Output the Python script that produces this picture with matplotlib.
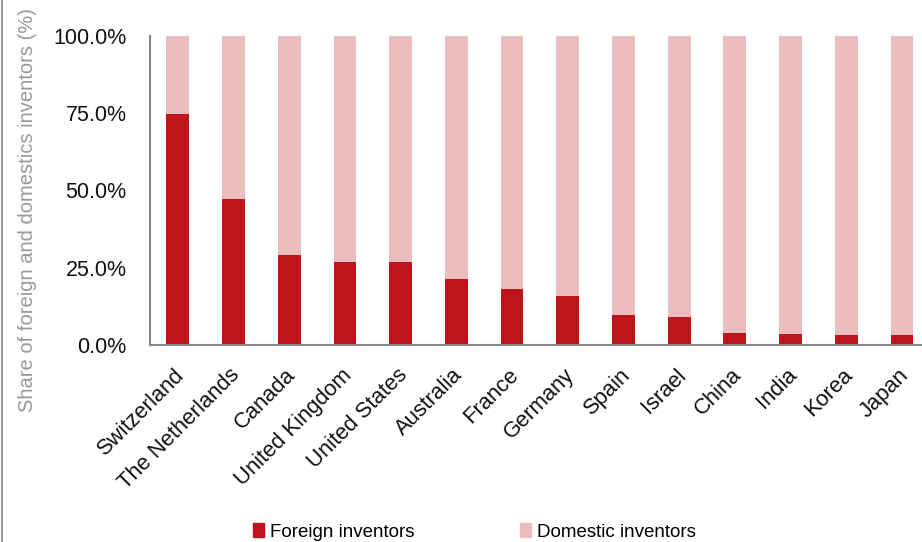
import matplotlib
matplotlib.use('Agg')
import matplotlib.pyplot as plt
import matplotlib.transforms as mtransforms
from matplotlib.patches import Patch
from matplotlib.lines import Line2D
from matplotlib.ticker import FuncFormatter, FixedLocator

countries = ['Switzerland', 'The Netherlands', 'Canada', 'United Kingdom', 'United States',
             'Australia', 'France', 'Germany', 'Spain', 'Israel', 'China', 'India', 'Korea', 'Japan']
foreign = [74.7, 47.2, 29.0, 27.0, 26.9, 21.4, 18.1, 15.9, 9.6, 8.9, 4.0, 3.6, 3.2, 3.2]
domestic = [100 - v for v in foreign]
yticks = [0, 25, 50, 75, 100]

plt.rcParams['font.family'] = ['Liberation Sans', 'DejaVu Sans']

c_foreign = '#BE141C'
c_domestic = '#ECBDBF'

fig = plt.figure(figsize=(9.22, 5.42), dpi=100)
ax = fig.add_axes([150 / 922, 197 / 542, 772 / 922, 309 / 542])

x = list(range(len(countries)))
ax.bar(x, foreign, width=0.41, color=c_foreign, label='Foreign inventors')
ax.bar(x, domestic, width=0.41, bottom=foreign, color=c_domestic, label='Domestic inventors')

ax.set_xlim(-0.5, -0.5 + 772 / 55.7)
ax.set_ylim(0, 100)
ax.yaxis.set_major_locator(FixedLocator(yticks))
ax.yaxis.set_major_formatter(FuncFormatter(lambda v, p: f'{v:.1f}%'))
ax.tick_params(axis='y', length=0, pad=17, labelsize=15.5, labelcolor='#111111')
ax.tick_params(axis='x', length=0, pad=14, labelsize=15.8, labelcolor='#111111')

ax.set_xticks(x)
ax.set_xticklabels(countries, rotation=45, ha='right', va='top', rotation_mode='anchor')
shift = mtransforms.ScaledTranslation(-4 / 100, 0, fig.dpi_scale_trans)
for lab in ax.get_xticklabels():
    lab.set_transform(lab.get_transform() + shift)

for s in ['top', 'right']:
    ax.spines[s].set_visible(False)
for s in ['left', 'bottom']:
    ax.spines[s].set_color('#888888')
    ax.spines[s].set_linewidth(1.5)

fig.text(28 / 922, 1 - 210 / 542, 'Share of foreign and domestics inventors (%)',
         rotation=90, ha='center', va='center', fontsize=14.5, color='#999999')

# left border line of the original frame
fig.add_artist(Line2D([2 / 922, 2 / 922], [0, 1], color='#888888', lw=1.2,
                      transform=fig.transFigure))

handles = [Patch(color=c_foreign), Patch(color=c_domestic)]
fig.legend(handles, ['Foreign inventors', 'Domestic inventors'], loc='center',
           bbox_to_anchor=(474.5 / 922, 10 / 542), ncol=2, frameon=False, fontsize=13.5,
           handlelength=0.59, handleheight=0.75, handletextpad=0.32, columnspacing=5.6)

fig.savefig('out.png', dpi=100)
